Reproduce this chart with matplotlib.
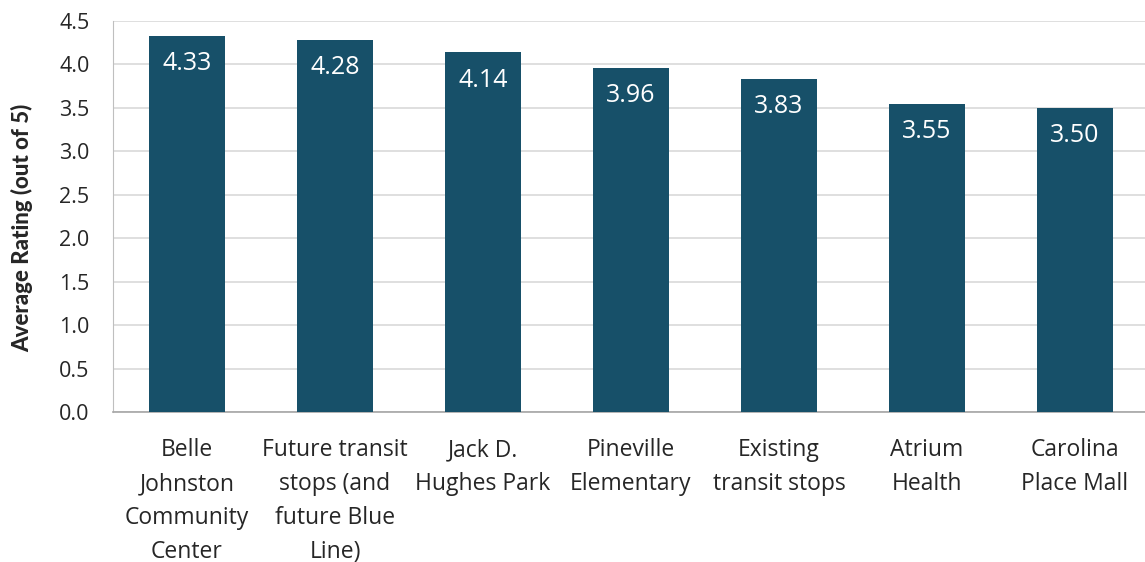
import matplotlib
matplotlib.use("Agg")
import matplotlib.pyplot as plt

# Average rating per destination (out of 5)
categories = [
    "Belle\nJohnston\nCommunity\nCenter",
    "Future transit\nstops (and\nfuture Blue\nLine)",
    "Jack D.\nHughes Park",
    "Pineville\nElementary",
    "Existing\ntransit stops",
    "Atrium\nHealth",
    "Carolina\nPlace Mall",
]
ratings = [4.33, 4.28, 4.14, 3.96, 3.83, 3.55, 3.50]
y_ticks = [0.0, 0.5, 1.0, 1.5, 2.0, 2.5, 3.0, 3.5, 4.0, 4.5]

BAR_COLOR = "#175069"
GRID_COLOR = "#d9d9d9"
TEXT_COLOR = "#262626"

plt.rcParams["font.family"] = ["Open Sans", "DejaVu Sans"]

W, H = 1145, 562
fig = plt.figure(figsize=(W / 100, H / 100), dpi=100)
ax = fig.add_axes([113 / W, (H - 412) / H, (1149 - 113) / W, (412 - 21) / H])

x = range(len(categories))
bars = ax.bar(x, ratings, width=0.51, color=BAR_COLOR, zorder=3)

for rect, val in zip(bars, ratings):
    ax.annotate(f"{val:.2f}",
                xy=(rect.get_x() + rect.get_width() / 2, rect.get_height()),
                xytext=(0, -20), textcoords="offset points",
                ha="center", va="center", color="white",
                fontsize=18, fontweight="normal", zorder=4)

ax.set_xlim(-0.5, len(categories) - 0.5)
ax.set_ylim(0, 4.5)
ax.set_yticks(y_ticks)
ax.set_yticklabels([f"{t:.1f}" for t in y_ticks], fontsize=15.5)
ax.set_xticks(list(x))
ax.set_xticklabels(categories, linespacing=1.55, fontsize=16.5)

ax.yaxis.grid(True, color=GRID_COLOR, linewidth=1.2, zorder=0)
ax.tick_params(axis="both", length=0, labelcolor=TEXT_COLOR)
ax.tick_params(axis="y", pad=17)
ax.tick_params(axis="x", pad=19)

for side in ("top", "right"):
    ax.spines[side].set_visible(False)
ax.spines["left"].set_color("#bfbfbf")
ax.spines["bottom"].set_color("#a6a6a6")
ax.spines["bottom"].set_linewidth(1.2)

fig.text(22 / W, 1 - 228 / H, "Average Rating (out of 5)",
         rotation=90, ha="center", va="center", fontsize=16,
         fontweight="black", color=TEXT_COLOR,
         family=["Lato", "DejaVu Sans"])

fig.savefig("out.png", dpi=100, facecolor="white")
